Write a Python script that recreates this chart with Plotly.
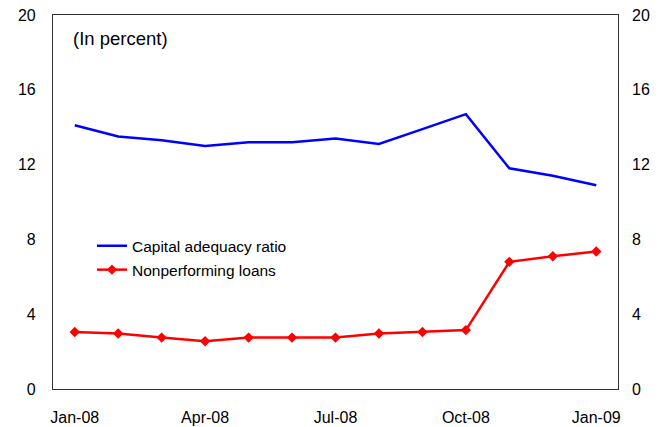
import plotly.graph_objects as go

# Monthly observations, Jan-08 through Jan-09
months = ["Jan-08", "Feb-08", "Mar-08", "Apr-08", "May-08", "Jun-08", "Jul-08",
          "Aug-08", "Sep-08", "Oct-08", "Nov-08", "Dec-08", "Jan-09"]
capital_adequacy = [14.1, 13.5, 13.3, 13.0, 13.2, 13.2, 13.4, 13.1, 13.9, 14.7, 11.8, 11.4, 10.9]
nonperforming = [3.05, 2.97, 2.75, 2.55, 2.75, 2.75, 2.75, 2.97, 3.05, 3.15, 6.8, 7.1, 7.35]

tick_labels = ["Jan-08", "Apr-08", "Jul-08", "Oct-08", "Jan-09"]
y_ticks = [0, 4, 8, 12, 16, 20]

x_idx = list(range(len(months)))
tick_pos = [months.index(t) for t in tick_labels]

font = dict(family="Liberation Sans, Arial, sans-serif", size=16, color="#000000")

fig = go.Figure()
fig.add_trace(go.Scatter(
    x=x_idx, y=capital_adequacy, name="Capital adequacy ratio",
    mode="lines", line=dict(color="#0000FF", width=2.5), legend="legend",
))
fig.add_trace(go.Scatter(
    x=x_idx, y=nonperforming, name="Nonperforming loans",
    mode="lines+markers", line=dict(color="#FF0000", width=2.5),
    marker=dict(symbol="diamond", size=8, color="#FF0000"), legend="legend2",
))
# invisible trace to carry the right-hand axis
fig.add_trace(go.Scatter(x=[x_idx[0]], y=[0], yaxis="y2", showlegend=False,
                         mode="markers", marker=dict(opacity=0), hoverinfo="skip"))

axis_line = dict(showline=True, linecolor="#333333", linewidth=1.2, showgrid=False,
                 zeroline=False, ticks="", automargin=False)

legend_style = dict(xanchor="left", yanchor="middle", bgcolor="rgba(0,0,0,0)",
                    font=dict(size=15.5), itemwidth=30)

fig.update_layout(
    width=669, height=427,
    margin=dict(l=53, r=51, t=15, b=38),
    paper_bgcolor="white", plot_bgcolor="white",
    font=font,
    showlegend=True,
    legend=dict(x=0.069, y=0.382, **legend_style),
    legend2=dict(x=0.069, y=0.318, **legend_style),
    xaxis=dict(range=[-0.5, 12.5], tickvals=tick_pos, ticktext=tick_labels,
               mirror=True, ticklabelstandoff=14, **axis_line),
    yaxis=dict(range=[0, 20], tickvals=y_ticks, mirror=True, ticklabelstandoff=13,
               **axis_line),
    yaxis2=dict(range=[0, 20], tickvals=y_ticks, overlaying="y", side="right",
                showline=False, showgrid=False, zeroline=False, ticks="",
                ticklabelstandoff=13, automargin=False),
    annotations=[dict(text="(In percent)", xref="paper", yref="paper",
                      x=0.031, y=0.938, xanchor="left", yanchor="middle",
                      showarrow=False, font=dict(size=18.5))],
)

fig.write_html("out.html")
